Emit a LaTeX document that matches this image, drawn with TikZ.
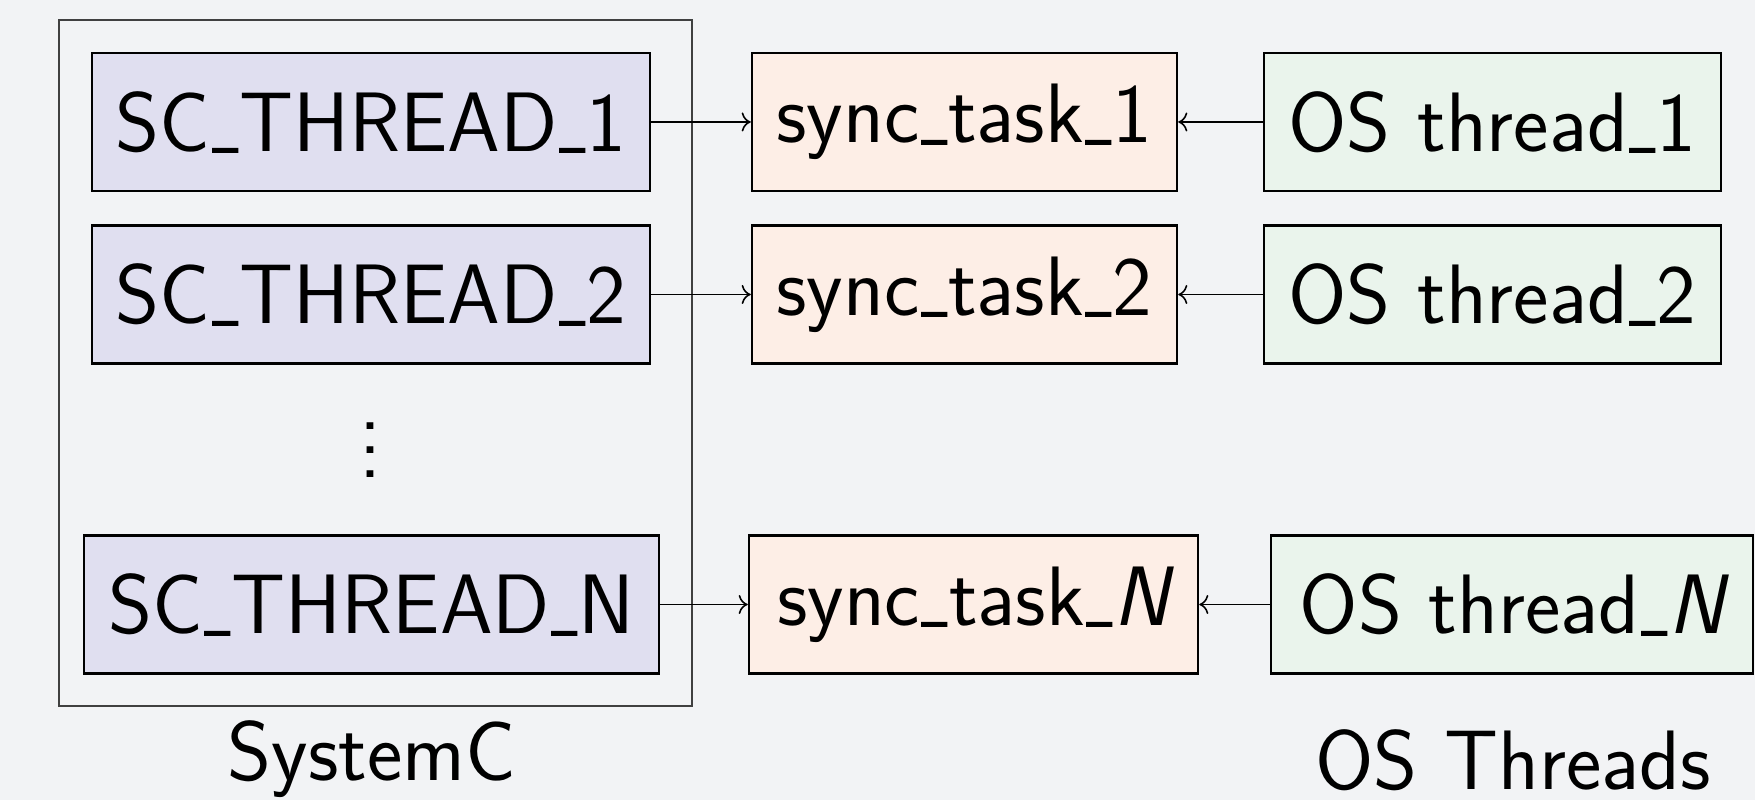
\documentclass[tikz,border=0pt]{standalone}
\usepackage{graphicx}
\usepackage{tikz}
\usetikzlibrary{arrows.meta,positioning}

\definecolor{bgcol}{HTML}{F2F3F5}
\definecolor{scfill}{HTML}{E0DFF0}
\definecolor{syncfill}{HTML}{FDEEE6}
\definecolor{osfill}{HTML}{EAF4EC}

% short underscore sitting on the baseline
\newcommand\usc{\kern.02em\raisebox{.1em}[.05em][0pt]{\scalebox{.5}[.8]{\textunderscore}}\kern.01em}
% vertical dots in the text font
\newcommand\sfvdots{\vbox{\baselineskip6.9pt\lineskiplimit0pt\hbox{.}\hbox{.}\hbox{.}}}

\begin{document}
\begin{tikzpicture}[
    every node/.style={font=\sffamily\fontsize{24}{28}\selectfont},
    box/.style={draw, line width=0.7pt, minimum height=1.38cm, inner xsep=0pt},
    scbox/.style={box, fill=scfill},
    syncbox/.style={box, fill=syncfill},
    osbox/.style={box, fill=osfill},
    link/.style={->, line width=0.45pt}]
    % canvas
    \fill[bgcol] (0,0) rectangle (17.55,8);
    \useasboundingbox (0,0) rectangle (17.55,8);

    % SystemC frame
    \draw[line width=0.7pt, black!75] (0.59,0.94) rectangle (6.92,7.80);
    \node[anchor=base] (lblsc) at (3.72,0.19) {SystemC};

    % SystemC threads
    \node[scbox, minimum width=5.58cm] (sc1) at (3.71,6.78) {SC\usc THREAD\usc 1};
    \node[scbox, minimum width=5.58cm] (sc2) at (3.71,5.055) {SC\usc THREAD\usc 2};
    \node (dots) at (3.71,3.5) {\sfvdots};
    \node[scbox, minimum width=5.75cm] (scN) at (3.715,1.955) {SC\usc THREAD\usc N};

    % sync tasks
    \node[syncbox, minimum width=4.25cm] (sync1) at (9.645,6.78) {sync\usc task\usc 1};
    \node[syncbox, minimum width=4.25cm] (sync2) at (9.645,5.055) {sync\usc task\usc 2};
    \node[syncbox, minimum width=4.49cm] (syncN) at (9.735,1.955) {sync\usc task\usc {\itshape N}};

    % OS threads
    \node[osbox, minimum width=4.57cm] (os1) at (14.925,6.78) {OS thread\usc 1};
    \node[osbox, minimum width=4.57cm] (os2) at (14.925,5.055) {OS thread\usc 2};
    \node[osbox, minimum width=4.82cm] (osN) at (15.12,1.955) {OS thread\usc {\itshape N}};
    \node[anchor=base] (lblos) at (15.13,0.10) {OS Threads};

    % links
    \draw[link] (sc1) -- (sync1);
    \draw[link] (sc2) -- (sync2);
    \draw[link] (scN) -- (syncN);
    \draw[link] (os1) -- (sync1);
    \draw[link] (os2) -- (sync2);
    \draw[link] (osN) -- (syncN);
\end{tikzpicture}
\end{document}
